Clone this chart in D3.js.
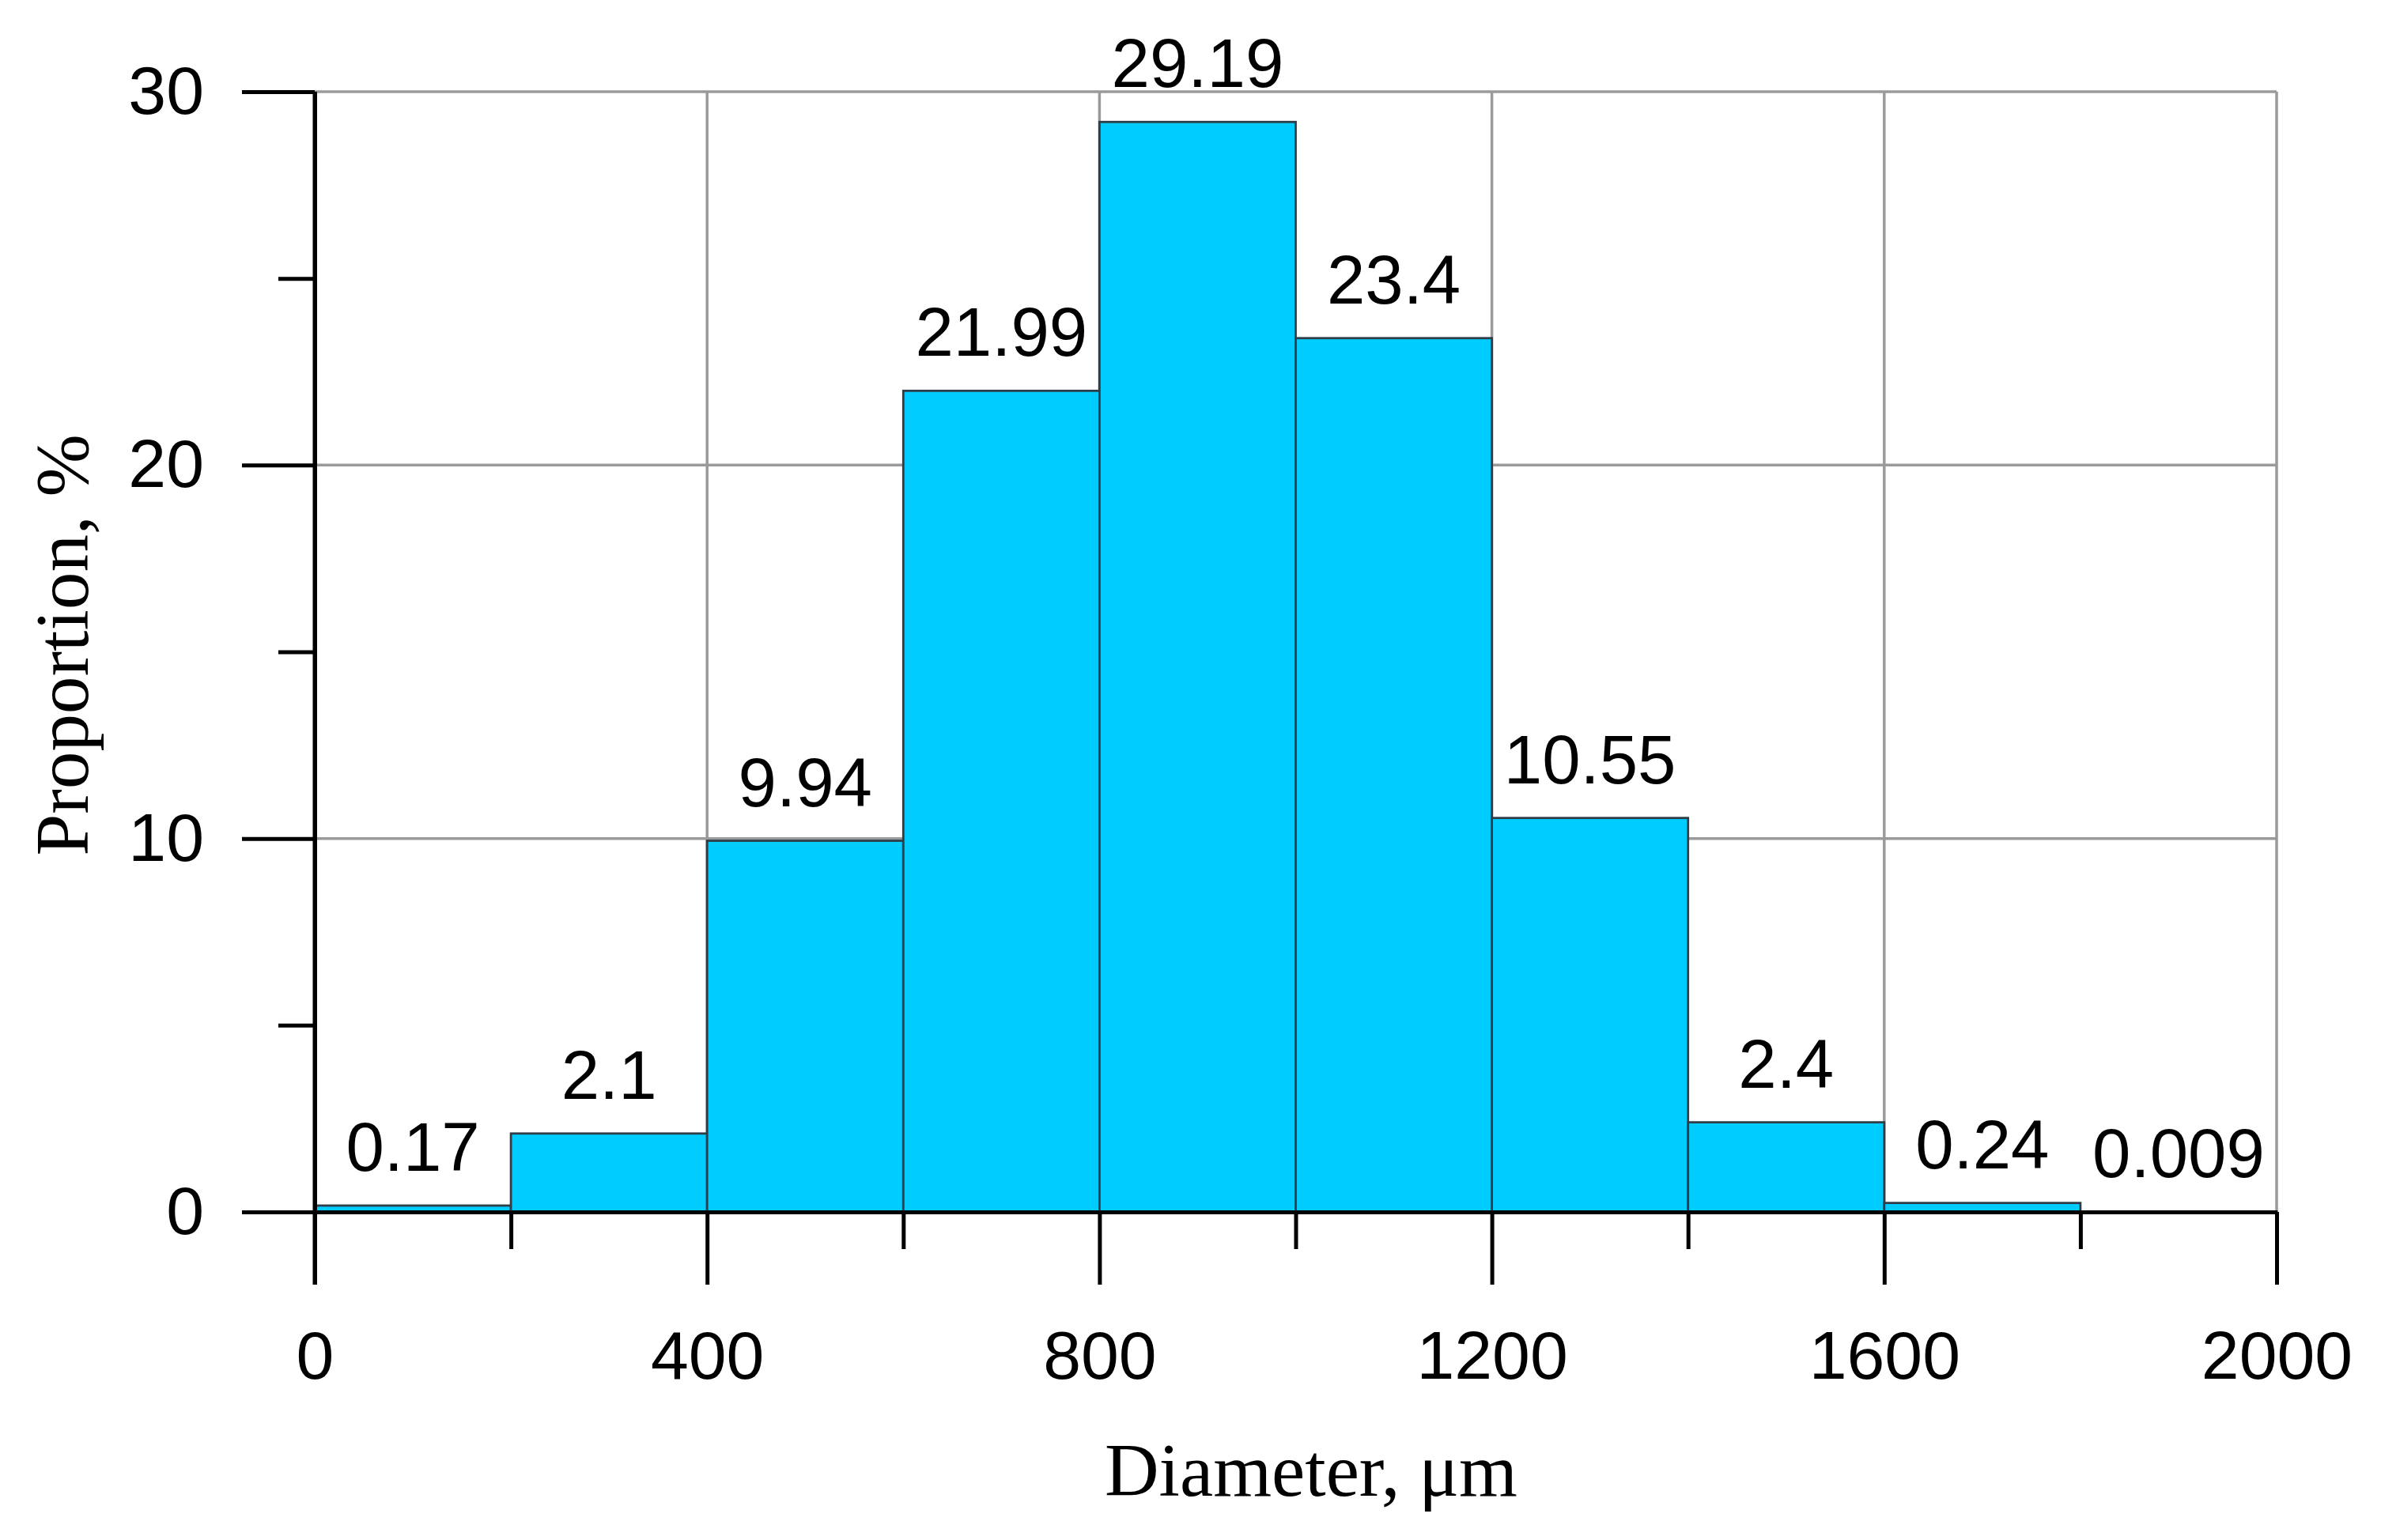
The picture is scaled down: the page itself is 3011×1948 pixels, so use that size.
<!DOCTYPE html>
<html>
<head>
<meta charset="utf-8">
<script src="https://cdn.jsdelivr.net/npm/d3@7"></script>
<style>
  html, body { margin: 0; padding: 0; background: #ffffff; }
  svg { display: block; }
</style>
</head>
<body>
<svg id="chart" width="3011" height="1948"></svg>
<script>
// ---- data ----
const binStarts = [0, 200, 400, 600, 800, 1000, 1200, 1400, 1600, 1800];
const binEnds   = [200, 400, 600, 800, 1000, 1200, 1400, 1600, 1800, 2000];
const proportions = [0.17, 2.1, 9.94, 21.99, 29.19, 23.4, 10.55, 2.4, 0.24, 0.009];
const valueLabels = ["0.17", "2.1", "9.94", "21.99", "29.19", "23.4", "10.55", "2.4", "0.24", "0.009"];
const xMajorTicks = [0, 400, 800, 1200, 1600, 2000];
const xMinorTicks = [200, 600, 1000, 1400, 1800];
const yMajorTicks = [0, 10, 20, 30];
const yMinorTicks = [5, 15, 25];
const xGrid = [400, 800, 1200, 1600, 2000];
const yGrid = [10, 20, 30];
const xTitle = "Diameter, μm";
const yTitle = "Proportion, %";

// ---- layout ----
const L = 398, R = 2879, T = 116, B = 1533;
const svg = d3.select("#chart");
const x = d3.scaleLinear().domain([0, 2000]).range([L, R]);
const y = d3.scaleLinear().domain([0, 30]).range([B, T]);

const sans = "'Liberation Sans', Arial, sans-serif";
const serif = "'Liberation Serif', 'Times New Roman', serif";

// gridlines
const grid = svg.append("g");
grid.selectAll("line.vg").data(xGrid).join("line")
  .attr("x1", d => x(d)).attr("x2", d => x(d))
  .attr("y1", y(0)).attr("y2", y(30))
  .attr("stroke", "#9a9a9a").attr("stroke-width", 3.5);
grid.selectAll("line.hg").data(yGrid).join("line")
  .attr("x1", x(0)).attr("x2", x(2000))
  .attr("y1", d => y(d)).attr("y2", d => y(d))
  .attr("stroke", "#9a9a9a").attr("stroke-width", 3.5);

// bars
const bars = binStarts.map((s, i) => ({ s, e: binEnds[i], v: proportions[i], label: valueLabels[i] }));
svg.append("g").selectAll("rect").data(bars).join("rect")
  .attr("x", d => x(d.s))
  .attr("y", d => y(d.v))
  .attr("width", d => x(d.e) - x(d.s))
  .attr("height", d => y(0) - y(d.v))
  .attr("fill", "#00CCFF")
  .attr("stroke", "#2e3d48")
  .attr("stroke-width", 2.8);

// value labels
svg.append("g").selectAll("text").data(bars).join("text")
  .attr("x", d => x((d.s + d.e) / 2))
  .attr("y", d => y(d.v) - 44)
  .attr("text-anchor", "middle")
  .attr("font-family", sans)
  .attr("font-size", 87)
  .attr("fill", "#000")
  .text(d => d.label);

// x axis (major)
const xAxis = svg.append("g").attr("transform", `translate(0,${B})`)
  .call(d3.axisBottom(x).tickValues(xMajorTicks).tickSize(92).tickSizeOuter(0).tickPadding(58).tickFormat(d3.format("d")));
// x axis (minor)
const xAxisMinor = svg.append("g").attr("transform", `translate(0,${B})`)
  .call(d3.axisBottom(x).tickValues(xMinorTicks).tickSize(47).tickSizeOuter(0).tickFormat(""));
// y axis (major)
const yAxis = svg.append("g").attr("transform", `translate(${L},0)`)
  .call(d3.axisLeft(y).tickValues(yMajorTicks).tickSize(92).tickSizeOuter(0).tickPadding(48).tickFormat(d3.format("d")));
// y axis (minor)
const yAxisMinor = svg.append("g").attr("transform", `translate(${L},0)`)
  .call(d3.axisLeft(y).tickValues(yMinorTicks).tickSize(46).tickSizeOuter(0).tickFormat(""));

[xAxis, xAxisMinor, yAxis, yAxisMinor].forEach(g => {
  g.select(".domain").attr("stroke", "#000").attr("stroke-width", 5);
  g.selectAll(".tick line").attr("stroke", "#000").attr("stroke-width", 5);
  g.selectAll(".tick text").attr("font-family", sans).attr("font-size", 86).attr("fill", "#000");
});
xAxis.selectAll(".tick text").attr("dy", "0.71em");

// extend y axis line below x axis
svg.append("line")
  .attr("x1", L).attr("x2", L).attr("y1", T).attr("y2", B + 92)
  .attr("stroke", "#000").attr("stroke-width", 5);

// axis titles
svg.append("text")
  .attr("x", 1658).attr("y", 1892)
  .attr("text-anchor", "middle")
  .attr("font-family", serif).attr("font-size", 95).attr("fill", "#000")
  .text(xTitle);
svg.append("text")
  .attr("transform", `translate(111,816) rotate(-90)`)
  .attr("text-anchor", "middle")
  .attr("font-family", serif).attr("font-size", 95).attr("fill", "#000")
  .text(yTitle);
</script>
</body>
</html>
